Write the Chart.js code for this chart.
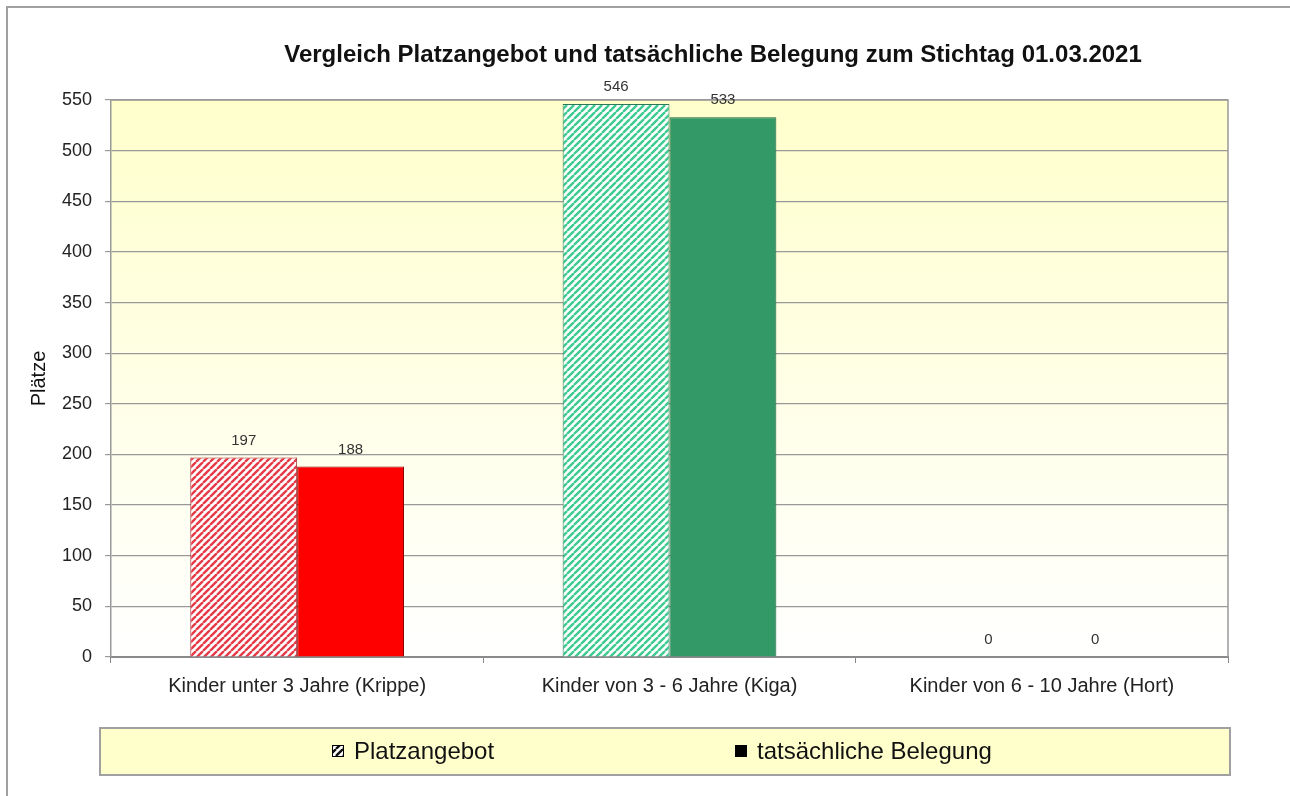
<!DOCTYPE html>
<html lang="de">
<head>
<meta charset="utf-8">
<title>Vergleich Platzangebot und tatsächliche Belegung</title>
<script src="https://cdn.jsdelivr.net/npm/chart.js@4.4.1/dist/chart.umd.min.js"></script>
<style>
    html, body { margin: 0; padding: 0; background: #ffffff; }
    #wrap { width: 1290px; height: 796px; position: relative; }
</style>
</head>
<body>
<div id="wrap"><canvas id="belegungChart"></canvas></div>
<script>
/* =========================================
   Platzangebot / Belegung – Stichtag 01.03.2021
========================================= */

// ---------------- Data ----------------

const categories = [
    "Kinder unter 3 Jahre (Krippe)",
    "Kinder von 3 - 6 Jahre (Kiga)",
    "Kinder von 6 - 10 Jahre (Hort)"
];

const platzangebot = [197, 546, 0];
const belegung = [188, 533, 0];

const seriesNames = ["Platzangebot", "tatsächliche Belegung"];

const yTicks = [0, 50, 100, 150, 200, 250, 300, 350, 400, 450, 500, 550];

const chartTitle = "Vergleich Platzangebot und tatsächliche Belegung zum Stichtag 01.03.2021";
const yTitle = "Plätze";

// ---------------- Hatch patterns ----------------

function makeHatch(stripe, bg){
    const size = 7;
    const c = document.createElement("canvas");
    c.width = size;
    c.height = size;
    const g = c.getContext("2d");
    g.fillStyle = bg;
    g.fillRect(0, 0, size, size);
    g.strokeStyle = stripe;
    g.lineWidth = 2.4;
    g.beginPath();
    for (let k = -1; k <= 1; k++) {
        g.moveTo(k * size, size);
        g.lineTo(k * size + size, 0);
    }
    g.stroke();
    return g.createPattern(c, "repeat");
}

const ctx = document.getElementById("belegungChart");
const ctx2d = ctx.getContext("2d");

const hatchRed = makeHatch("#e63a48", "#ffffff");
const hatchGreen = makeHatch("#3dcb90", "#ffffff");
const hatchBlack = makeHatch("#111111", "#ffffff");

const FONT = "'Liberation Sans', Arial, sans-serif";

// ---------------- Decoration plugin ----------------

const decor = {
    id: "decor",
    beforeDraw(chart){
        const c = chart.ctx;
        const a = chart.chartArea;
        c.save();
        c.fillStyle = "#ffffff";
        c.fillRect(0, 0, chart.width, chart.height);

        // outer frame (top + left)
        c.strokeStyle = "#a0a0a0";
        c.lineWidth = 2;
        c.beginPath();
        c.moveTo(7, chart.height);
        c.lineTo(7, 7);
        c.lineTo(chart.width, 7);
        c.stroke();

        // plot background
        const grad = c.createLinearGradient(0, a.top, 0, a.bottom);
        grad.addColorStop(0, "#ffffcc");
        grad.addColorStop(1, "#ffffff");
        c.fillStyle = grad;
        c.fillRect(a.left, a.top, a.right - a.left, a.bottom - a.top);

        // legend box
        c.fillStyle = "#ffffcc";
        c.fillRect(100, 728, 1130, 47);
        c.strokeStyle = "#a0a0a0";
        c.lineWidth = 2;
        c.strokeRect(100, 728, 1130, 47);
        c.restore();
    },
    afterDraw(chart){
        const c = chart.ctx;
        const a = chart.chartArea;
        c.save();

        // plot border (top + right)
        c.strokeStyle = "#999999";
        c.lineWidth = 1.5;
        c.beginPath();
        c.moveTo(a.left, a.top);
        c.lineTo(a.right, a.top);
        c.lineTo(a.right, a.bottom);
        c.stroke();

        // title
        c.fillStyle = "#111111";
        c.font = "bold 24px " + FONT;
        c.textAlign = "center";
        c.textBaseline = "middle";
        c.fillText(chartTitle, 713, 55);

        // legend
        c.font = "24px " + FONT;
        c.textAlign = "left";
        const items = [
            { x: 332, fill: hatchBlack, label: seriesNames[0] },
            { x: 735, fill: "#000000", label: seriesNames[1] }
        ];
        items.forEach(it => {
            c.fillStyle = it.fill;
            c.fillRect(it.x, 745, 12, 12);
            c.strokeStyle = "#000000";
            c.lineWidth = 1;
            c.strokeRect(it.x + 0.5, 745.5, 11, 11);
            c.fillStyle = "#111111";
            c.fillText(it.label, it.x + 22, 752);
        });

        // value labels
        c.font = "15px " + FONT;
        c.fillStyle = "#333333";
        c.textAlign = "center";
        chart.data.datasets.forEach((ds, i) => {
            chart.getDatasetMeta(i).data.forEach((bar, j) => {
                c.fillText(String(ds.data[j]), bar.x, bar.y - 17);
            });
        });
        c.restore();
    }
};

// ---------------- Chart ----------------

new Chart(ctx, {
    type: "bar",
    data: {
        labels: categories,
        datasets: [
            {
                label: seriesNames[0],
                data: platzangebot,
                backgroundColor: [hatchRed, hatchGreen, hatchRed],
                borderColor: ["#a02028", "#2a7a55", "#a02028"],
                borderWidth: 1,
                borderSkipped: "bottom",
                categoryPercentage: 0.574,
                barPercentage: 1.0
            },
            {
                label: seriesNames[1],
                data: belegung,
                backgroundColor: ["#ff0000", "#339966", "#ff0000"],
                borderColor: ["#8a0000", "#1e5e3e", "#8a0000"],
                borderWidth: 1,
                borderSkipped: "bottom",
                categoryPercentage: 0.574,
                barPercentage: 1.0
            }
        ]
    },
    options: {
        responsive: true,
        maintainAspectRatio: false,
        animation: false,
        devicePixelRatio: 1,
        layout: {
            padding: { top: 100, left: 8, right: 62, bottom: 99 }
        },
        plugins: {
            legend: { display: false },
            title: { display: false },
            tooltip: { enabled: false }
        },
        scales: {
            x: {
                grid: {
                    offset: true,
                    drawOnChartArea: false,
                    tickLength: 6,
                    color: "#888888"
                },
                border: { color: "#8a8a8a", width: 2 },
                ticks: {
                    font: { family: FONT, size: 20 },
                    color: "#222222",
                    padding: 11
                },
                afterFit(scale){ scale.height = 40; }
            },
            y: {
                min: 0,
                max: 550,
                afterBuildTicks(scale){
                    scale.ticks = yTicks.map(v => ({ value: v }));
                },
                grid: {
                    color: "#999999",
                    tickLength: 6,
                    lineWidth: 1.2
                },
                border: { color: "#999999", width: 1.5 },
                ticks: {
                    font: { family: FONT, size: 18 },
                    color: "#222222",
                    padding: 13
                },
                title: {
                    display: true,
                    text: yTitle,
                    font: { family: FONT, size: 20 },
                    color: "#111111",
                    padding: { top: 19, bottom: 0 }
                },
                afterFit(scale){ scale.width = 103; }
            }
        }
    },
    plugins: [decor]
});
</script>
</body>
</html>
